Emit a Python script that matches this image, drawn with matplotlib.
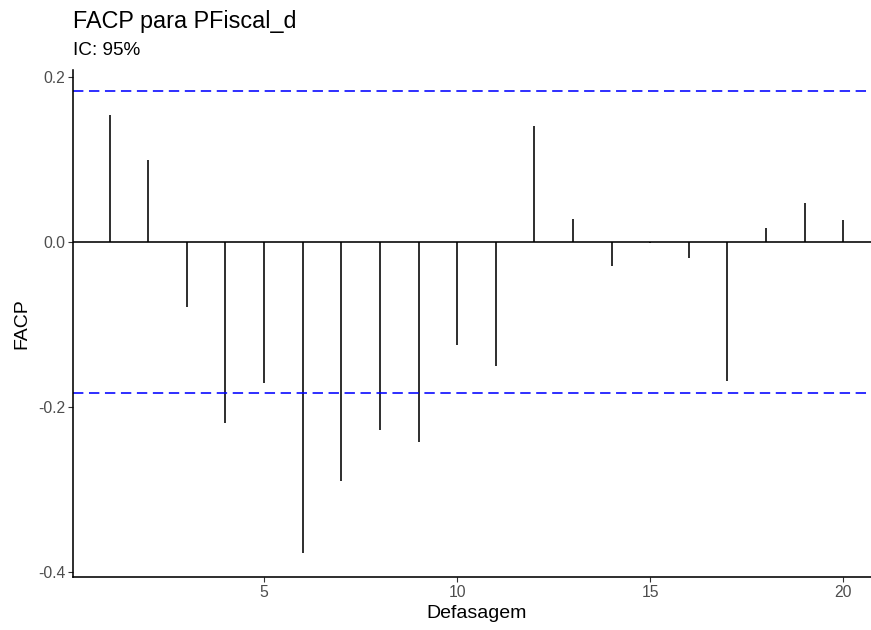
import matplotlib
matplotlib.use('Agg')
import matplotlib.pyplot as plt
import numpy as np

# partial autocorrelations
lags = list(range(1, 21))
facp = [0.154, 0.100, -0.078, -0.219, -0.171, -0.377, -0.289, -0.228, -0.242, -0.124,
        -0.150, 0.141, 0.028, -0.029, -0.001, -0.019, -0.168, 0.017, 0.047, 0.027]
ic = 0.183  # limite do intervalo de confianca (95%)

x_ticks = [5, 10, 15, 20]
y_ticks = [-0.4, -0.2, 0.0, 0.2]

plt.rcParams['font.family'] = ['Liberation Sans', 'DejaVu Sans']

fig = plt.figure(figsize=(8.71, 6.30), dpi=100)
ax = fig.add_axes([73 / 871, 1 - 577 / 630, (871 - 73) / 871, (577 - 70) / 630])

ax.vlines(lags, 0, facp, color='black', linewidth=1.15)
ax.axhline(0, color='black', linewidth=1.15)
for h in (ic, -ic):
    ax.axhline(h, color='blue', linewidth=1.15, linestyle=(0, (6.5, 3.5)))

ax.set_xlim(0.05, 20.72)
ax.set_ylim(-0.4057, 0.2088)
ax.set_xticks(x_ticks)
ax.set_xticklabels([str(t) for t in x_ticks])
ax.set_yticks(y_ticks)
ax.set_yticklabels(['-0.4', '-0.2', '0.0', '0.2'])

for side in ('top', 'right'):
    ax.spines[side].set_visible(False)
for side in ('left', 'bottom'):
    ax.spines[side].set_linewidth(1.15)
    ax.spines[side].set_color('black')

ax.tick_params(axis='both', length=3.5, width=0.8, color='#333333',
               labelcolor='#4D4D4D', labelsize=11.3, pad=2)

ax.set_xlabel('Defasagem', fontsize=14, labelpad=4)
ax.xaxis.label.set_x((476.5 - 73) / 798)
ax.set_ylabel('FACP', fontsize=14, labelpad=5.5)

fig.text(73 / 871, 1 - 28 / 630, 'FACP para PFiscal_d', fontsize=16.8, ha='left', va='baseline')
fig.text(73 / 871, 1 - 55 / 630, 'IC: 95%', fontsize=13.7, ha='left', va='baseline')

fig.savefig('out.png', dpi=100)
